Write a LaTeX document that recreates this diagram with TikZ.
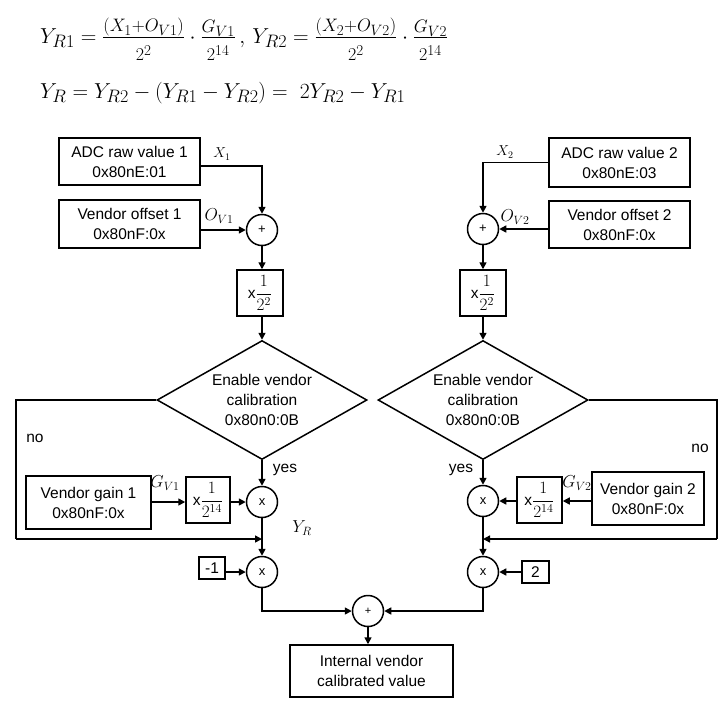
\documentclass[tikz,border=0pt]{standalone}
\usepackage{amsmath}
\usepackage{fontspec}
\setmainfont{Liberation Sans}
\usetikzlibrary{arrows.meta,shapes.geometric}
\newcommand{\fracfont}{\fontsize{17.28}{20}\selectfont}
\newcommand{\dstrut}{\rule{0pt}{1.9ex}}
\begin{document}
\begin{tikzpicture}[x=1pt,y=-1pt,
  every node/.style={font=\fontsize{15.5}{20}\selectfont},
  box/.style={draw, line width=1.5pt, align=center, inner sep=0pt},
  opc/.style={draw, circle, line width=1.5pt, minimum size=31pt, inner sep=0pt, font=\fontsize{13}{13}\selectfont},
  dia/.style={draw, diamond, line width=1.5pt, minimum width=210pt, minimum height=119pt, inner sep=0pt},
  conn/.style={line width=1.5pt, -{Triangle[length=7pt,width=7pt]}},
  wire/.style={line width=1.5pt},
  lbl/.style={inner sep=0pt},
  eqn/.style={inner sep=0pt, anchor=base west, font=\fontsize{24.88}{30}\selectfont, scale=0.87},
]
\useasboundingbox (0,0) rectangle (728,713);

% equations
\node[eqn] (eq1) at (40,43) {$Y_{R1}=\frac{(X_1+O_{V1})}{\dstrut 2^2}\cdot\frac{G_{V1}}{\dstrut 2^{14}}\,,\,Y_{R2}=\frac{(X_2+O_{V2})}{\dstrut 2^2}\cdot\frac{G_{V2}}{\dstrut 2^{14}}$};
\node[eqn] (eq2) at (40,98) {$Y_R=Y_{R2}-(Y_{R1}-Y_{R2})=\;2Y_{R2}-Y_{R1}$};

% left column
\node[box, minimum width=141pt, minimum height=47pt] (adc1) at (129.5,161.5) {ADC raw value 1\\0x80nE:01};
\node[box, minimum width=141pt, minimum height=48pt] (vo1) at (129.5,224) {Vendor offset 1\\0x80nF:0x};
\node[opc] (p1) at (262,230) {+};
\node[box, minimum width=46pt, minimum height=46pt] (s1) at (260,293) {x{\fracfont$\dfrac{1}{2^{2}}$}};
\node[dia] (d1) at (262,400) {};
\node[lbl, align=center] (t1) at (d1) {Enable vendor\\calibration\\0x80n0:0B};
\node[opc] (m1) at (262,502) {x};
\node[box, minimum width=125pt, minimum height=53pt] (g1) at (88.5,502.5) {Vendor gain 1\\0x80nF:0x};
\node[box, minimum width=44pt, minimum height=46pt] (k1) at (208,500) {x{\fracfont$\dfrac{1}{2^{14}}$}};
\node[opc] (n1) at (262,572) {x};
\node[box, minimum width=26pt, minimum height=22pt] (c1) at (212,568) {-1};

% right column
\node[box, minimum width=141pt, minimum height=49pt] (adc2) at (619.5,162.5) {ADC raw value 2\\0x80nE:03};
\node[box, minimum width=141pt, minimum height=47pt] (vo2) at (619.5,224.5) {Vendor offset 2\\0x80nF:0x};
\node[opc] (p2) at (483,229) {+};
\node[box, minimum width=46pt, minimum height=46pt] (s2) at (483,293) {x{\fracfont$\dfrac{1}{2^{2}}$}};
\node[dia] (d2) at (483,400) {};
\node[lbl, align=center] (t2) at (d2) {Enable vendor\\calibration\\0x80n0:0B};
\node[opc] (m2) at (483,501) {x};
\node[box, minimum width=45pt, minimum height=46pt] (k2) at (539.5,500) {x{\fracfont$\dfrac{1}{2^{14}}$}};
\node[box, minimum width=112pt, minimum height=53pt] (g2) at (648,498.5) {Vendor gain 2\\0x80nF:0x};
\node[opc] (n2) at (483,572) {x};
\node[box, minimum width=27pt, minimum height=22pt] (c2) at (535.5,572) {2};

% bottom
\node[opc, font=\fontsize{11}{12}\selectfont] (ps) at (368,611) {+};
\node[box, minimum width=163pt, minimum height=52pt] (out) at (371.5,671) {Internal vendor\\calibrated value};

% helper coordinates
\coordinate (cL) at (16,539);
\coordinate (jL) at (262,539);
\coordinate (cR) at (717,539);
\coordinate (jR) at (483,539);

% connectors left
\draw[conn] ([yshift=-4.5pt]adc1.east) -| (p1.north);
\draw[conn] (vo1.east |- p1) -- (p1.west);
\draw[conn] (p1.south) -- (s1.north -| p1);
\draw[conn] (s1.south -| p1) -- (d1.north);
\draw[conn] (d1.south) -- (m1.north);
\draw[wire] (d1.west) -| (cL);
\draw[conn] (cL) -- (jL);
\draw[conn] (g1.east |- m1) -- (k1.west |- m1);
\draw[conn] (k1.east |- m1) -- (m1.west);
\draw[conn] (m1.south) -- (n1.north);
\draw[conn] (c1.east |- n1) -- (n1.west);
\draw[conn] (n1.south) |- (ps.west);

% connectors right
\draw[conn] (adc2.west) -| (p2.north);
\draw[conn] (vo2.west |- p2) -- (p2.east);
\draw[conn] (p2.south) -- (s2.north);
\draw[conn] (s2.south) -- (d2.north);
\draw[conn] (d2.south) -- (m2.north);
\draw[wire] (d2.east) -| (cR);
\draw[conn] (cR) -- (jR);
\draw[conn] (g2.west |- m2) -- (k2.east |- m2);
\draw[conn] (k2.west |- m2) -- (m2.east);
\draw[conn] (m2.south) -- (n2.north);
\draw[conn] (c2.west |- n2) -- (n2.east);
\draw[conn] (n2.south) |- (ps.east);
\draw[conn] (ps.south) -- (out.north -| ps);

% labels
\node[lbl, font=\fontsize{14.4}{16}\selectfont] (lx1) at (222,154) {$X_1$};
\node[lbl, font=\fontsize{17.28}{20}\selectfont] (lo1) at (219,216) {$O_{V1}$};
\node[lbl, font=\fontsize{14.4}{16}\selectfont] (lx2) at (505,152) {$X_2$};
\node[lbl, font=\fontsize{17.28}{20}\selectfont] (lo2) at (515,217) {$O_{V2}$};
\node[lbl] (y1) at (285,470) {yes};
\node[lbl] (y2) at (461,470) {yes};
\node[lbl] (no1) at (35,438) {no};
\node[lbl] (no2) at (700,448) {no};
\node[lbl, font=\fontsize{17.28}{20}\selectfont] (lg1) at (165,483) {$G_{V1}$};
\node[lbl, font=\fontsize{17.28}{20}\selectfont] (lg2) at (577,483) {$G_{V2}$};
\node[lbl, font=\fontsize{17.28}{20}\selectfont] (lyr) at (302,528) {$Y_R$};
\end{tikzpicture}
\end{document}
